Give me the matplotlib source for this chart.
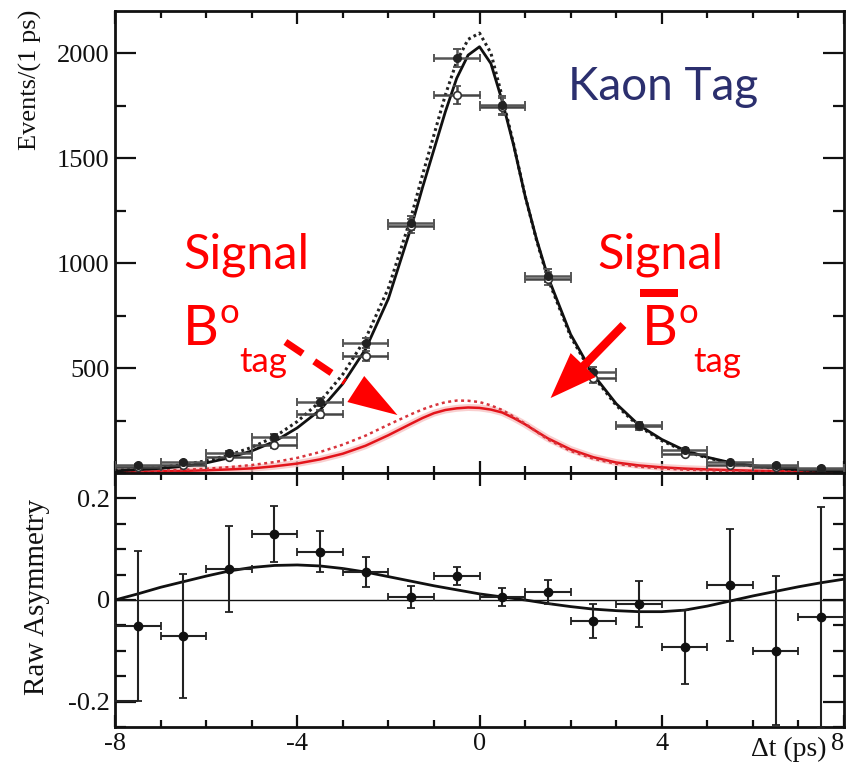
import numpy as np
import matplotlib
matplotlib.use("Agg")
import matplotlib.pyplot as plt
from matplotlib.patches import Polygon, Rectangle

# ---------------- data ----------------
bin_centers = [-7.5, -6.5, -5.5, -4.5, -3.5, -2.5, -1.5, -0.5, 0.5, 1.5, 2.5, 3.5, 4.5, 5.5, 6.5, 7.5]

# events per 1 ps, B0 tagged (filled) and anti-B0 tagged (open)
events_b0 = [38, 52, 95, 171, 338, 619, 1190, 1976, 1752, 940, 481, 228, 110, 52, 38, 22]
events_b0bar = [28, 38, 76, 133, 281, 557, 1175, 1800, 1745, 925, 452, 222, 90, 38, 30, 18]

# fit curves (total and signal-only) for the two tag flavours
t_fit = [-8.0, -7.5, -7.0, -6.5, -6.0, -5.5, -5.0, -4.5, -4.0, -3.5, -3.0, -2.5, -2.0,
         -1.5, -1.25, -1.0, -0.75, -0.5, -0.25, 0.0, 0.25, 0.5, 0.75, 1.0, 1.25, 1.5,
         2.0, 2.5, 3.0, 3.5, 4.0, 4.5, 5.0, 5.5, 6.0, 6.5, 7.0, 7.5, 8.0]
fit_total_solid = [10, 16, 22, 32, 48, 72, 105, 150, 215, 300, 425, 590, 830,
                   1170, 1360, 1540, 1720, 1880, 1990, 2030, 1950, 1770, 1560, 1320, 1115, 935,
                   660, 468, 330, 228, 160, 108, 75, 50, 35, 24, 16, 11, 8]
fit_total_dotted = [12, 19, 27, 40, 58, 85, 122, 172, 245, 340, 470, 640, 880,
                    1220, 1420, 1610, 1800, 1960, 2065, 2095, 2000, 1790, 1565, 1320, 1110, 925,
                    650, 460, 322, 222, 154, 104, 72, 48, 33, 22, 15, 10, 7]
fit_sig_solid = [5, 6, 8, 10, 13, 17, 22, 32, 45, 65, 92, 130, 180,
                 235, 262, 285, 300, 308, 312, 310, 302, 288, 262, 232, 198, 165,
                 112, 75, 50, 36, 27, 21, 17, 14, 11, 9, 7, 6, 5]
fit_sig_dotted = [6, 8, 11, 15, 20, 28, 38, 52, 72, 100, 135, 178, 230,
                  280, 303, 322, 337, 345, 344, 338, 322, 300, 268, 235, 197, 160,
                  105, 68, 44, 30, 22, 16, 13, 10, 8, 6, 5, 4, 4]

# raw asymmetry per bin and its error
asym = [-0.051, -0.071, 0.061, 0.130, 0.095, 0.055, 0.006, 0.047,
        0.006, 0.016, -0.041, -0.008, -0.093, 0.030, -0.100, -0.034]
asym_err = [0.147, 0.122, 0.084, 0.056, 0.040, 0.030, 0.022, 0.017,
            0.017, 0.024, 0.034, 0.046, 0.073, 0.110, 0.147, 0.217]

t_asym_fit = [-8.0, -7.5, -7.0, -6.5, -6.0, -5.5, -5.0, -4.5, -4.0, -3.5, -3.0, -2.5, -2.0,
              -1.5, -1.0, -0.5, 0.0, 0.5, 1.0, 1.5, 2.0, 2.5, 3.0, 3.5, 4.0, 4.5, 5.0,
              5.5, 6.0, 6.5, 7.0, 7.5, 8.0]
asym_fit = [0.000, 0.012, 0.025, 0.036, 0.047, 0.057, 0.064, 0.068, 0.069, 0.067, 0.062, 0.055, 0.046,
            0.037, 0.028, 0.020, 0.012, 0.006, 0.000, -0.007, -0.013, -0.018, -0.021, -0.023, -0.023, -0.020, -0.012,
            -0.002, 0.008, 0.017, 0.026, 0.034, 0.041]

x_ticks = [-8, -4, 0, 4, 8]
x_tick_labels = ["-8", "-4", "0", "4", "8"]
y_ticks_events = [500, 1000, 1500, 2000]
y_ticks_asym = [-0.2, 0, 0.2]
y_tick_labels_asym = ["-0.2", "0", "0.2"]

# ---------------- figure ----------------
plt.rcParams["font.family"] = ["Liberation Serif", "DejaVu Serif"]
fig = plt.figure(figsize=(8.48, 7.71), dpi=100)
ax1 = fig.add_axes([0.1356, 0.3865, 0.8597, 0.5992])
ax2 = fig.add_axes([0.1356, 0.0571, 0.8597, 0.3294])

x = np.array(bin_centers)
xerr = 0.5

# upper panel
ax1.plot(t_fit, fit_sig_solid, color="#f8c4c4", lw=5, alpha=0.8, zorder=2)
ax1.plot(t_fit, fit_sig_solid, color="#e3141b", lw=1.8, zorder=3)
ax1.plot(t_fit, fit_sig_dotted, color="#d8343c", lw=1.8, ls=(0, (1.2, 1.4)), zorder=3)
ax1.plot(t_fit, fit_total_dotted, color="#222222", lw=2.2, ls=(0, (0.9, 1.1)), zorder=4)
ax1.plot(t_fit, fit_total_solid, color="#111111", lw=2.0, zorder=4)

ax1.errorbar(x, events_b0bar, xerr=xerr, yerr=np.sqrt(events_b0bar), fmt="o", ms=5.5,
             mfc="white", mec="#333333", mew=1.2, ecolor="#444444", elinewidth=1.8,
             capsize=3, capthick=1.4, zorder=5)
ax1.errorbar(x, events_b0, xerr=xerr, yerr=np.sqrt(events_b0), fmt="o", ms=5.5,
             mfc="#222222", mec="#222222", ecolor="#555555", elinewidth=1.8,
             capsize=3, capthick=1.4, zorder=5)

ax1.set_xlim(-8, 8)
ax1.set_ylim(0, 2200)
ax1.set_yticks(y_ticks_events)
ax1.set_yticks(np.arange(250, 2200, 250), minor=True)
ax1.set_xticks(x_ticks)
ax1.set_xticks(np.arange(-8, 9, 1), minor=True)
ax1.tick_params(labelbottom=False)

# lower panel
ax2.axhline(0, color="#111111", lw=1.0, zorder=2)
ax2.plot(t_asym_fit, asym_fit, color="#111111", lw=2.0, zorder=3)
ax2.errorbar(x, asym, xerr=xerr, yerr=asym_err, fmt="o", ms=6,
             mfc="#111111", mec="#111111", ecolor="#222222", elinewidth=1.5,
             capsize=3, capthick=1.3, zorder=4)
# lower end of the first bin's error bar joins the frame
ax2.hlines(asym[0] - asym_err[0], -8, bin_centers[0], color="#222222", lw=1.5, zorder=4)

ax2.set_xlim(-8, 8)
ax2.set_ylim(-0.25, 0.25)
ax2.set_yticks(y_ticks_asym)
ax2.set_yticklabels(y_tick_labels_asym)
ax2.set_yticks(np.arange(-0.25, 0.26, 0.05), minor=True)
ax2.set_xticks(x_ticks)
ax2.set_xticklabels(x_tick_labels)
ax2.set_xticks(np.arange(-8, 9, 1), minor=True)
ax2.get_xticklabels()[-1].set_horizontalalignment("right")

for ax in (ax1, ax2):
    for sp in ax.spines.values():
        sp.set_linewidth(2.0)
        sp.set_color("#111111")
    ax.tick_params(which="both", direction="in", top=True, right=True, width=1.6,
                   colors="#111111", labelsize=19, labelcolor="#111111")
    ax.tick_params(axis="y", which="major", length=15)
    ax.tick_params(axis="y", which="minor", length=8)
    ax.tick_params(axis="x", which="major", length=9)
    ax.tick_params(axis="x", which="minor", length=5)
ax1.tick_params(axis="y", pad=4)
ax2.tick_params(axis="x", pad=4)

# axis titles
fig.text(0.036, 0.987, "Events/(1 ps)", rotation=90, ha="center", va="top", fontsize=19,
         color="#111111")
fig.text(0.044, 0.226, "Raw Asymmetry", rotation=90, ha="center", va="center", fontsize=21,
         color="#111111")
fig.text(0.975, 0.019, "\u0394t (ps)", ha="right", va="baseline", fontsize=20, color="#111111")

# annotations
ann_font = ["Lato", "DejaVu Sans"]
red = "#ff0000"
fig.text(0.670, 0.870, "Kaon Tag", fontsize=33, color="#2b2f6e", family=ann_font)

fig.text(0.216, 0.652, "Signal", fontsize=35, color=red, family=ann_font)
fig.text(0.216, 0.5525, "B", fontsize=40, color=red, family=ann_font)
fig.text(0.259, 0.581, "o", fontsize=25, color=red, family=ann_font)
fig.text(0.282, 0.5175, "tag", fontsize=25, color=red, family=ann_font)

fig.text(0.704, 0.652, "Signal", fontsize=35, color=red, family=ann_font)
fig.add_artist(Rectangle((640 / 848, 1 - 297 / 771), 38 / 848, 8 / 771,
                         transform=fig.transFigure, color=red, lw=0))
fig.text(0.757, 0.5525, "B", fontsize=40, color=red, family=ann_font)
fig.text(0.800, 0.581, "o", fontsize=25, color=red, family=ann_font)
fig.text(0.818, 0.5175, "tag", fontsize=25, color=red, family=ann_font)

# dashed pointer to the B0-tag signal curve
ax1.plot([-4.26, -2.95], [624, 433], color=red, lw=5, ls=(0, (3, 2)), solid_capstyle="butt",
         zorder=6, clip_on=False)
ax1.add_patch(Polygon([[-2.53, 462], [-2.90, 338], [-1.80, 276]], closed=True,
                      color=red, lw=0, zorder=6))
# solid pointer to the anti-B0-tag signal curve
ax1.plot([3.16, 2.15], [705, 480], color=red, lw=6, solid_capstyle="butt", zorder=6)
ax1.add_patch(Polygon([[2.0, 571], [2.55, 457], [1.56, 357]], closed=True,
                      color=red, lw=0, zorder=6))

fig.savefig("out.png", dpi=100)
